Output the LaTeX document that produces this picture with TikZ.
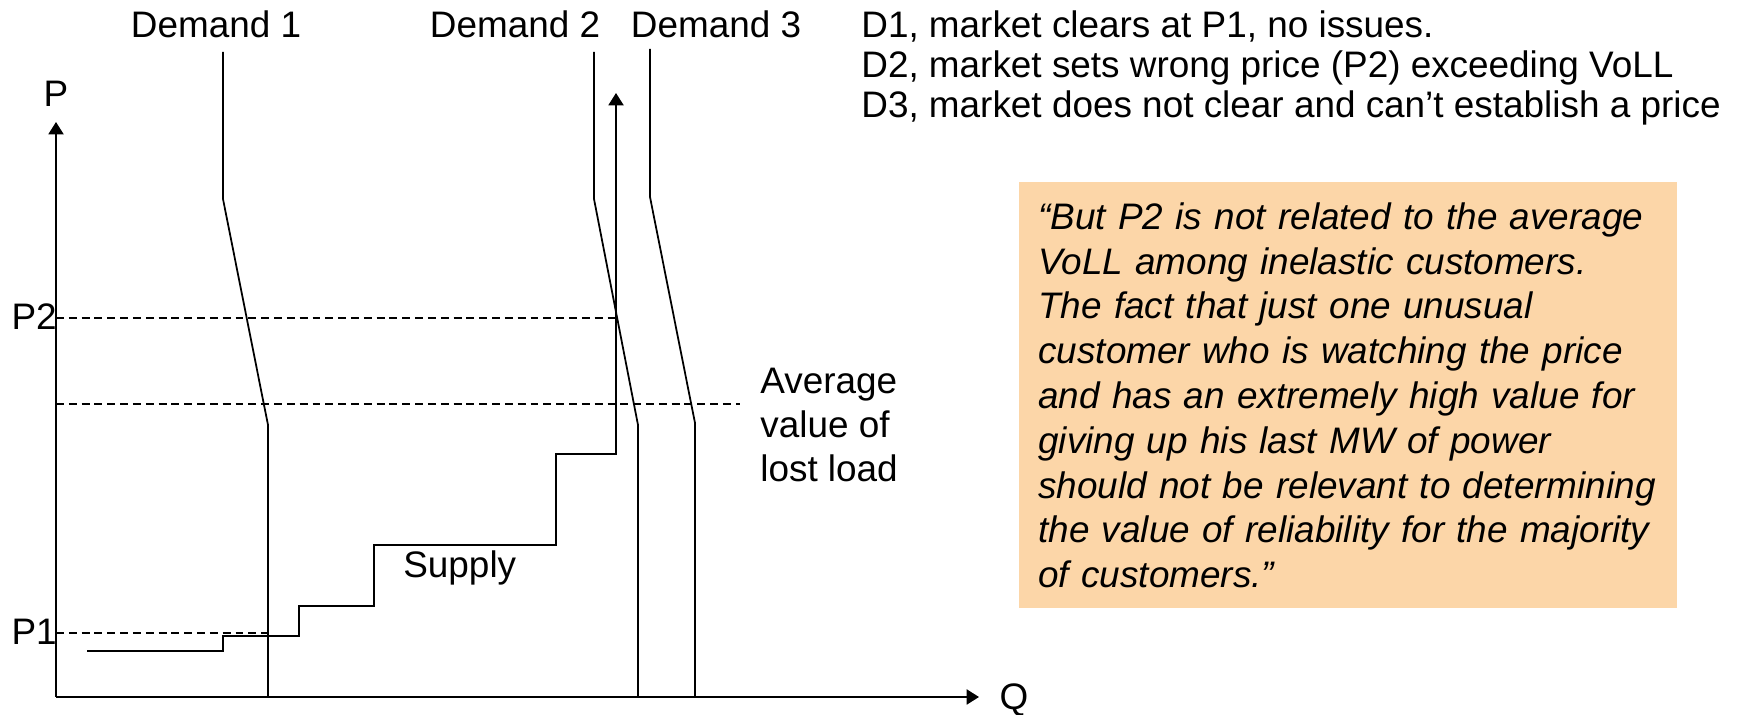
\documentclass[tikz,border=0pt]{standalone}
\usepackage{fontspec}
\setmainfont{Liberation Sans}
\usetikzlibrary{arrows.meta,positioning}
\definecolor{peach}{RGB}{252,214,168}

\begin{document}
\begin{tikzpicture}[x=0.02cm,y=-0.02cm,>={Triangle[width=8.5pt,length=7pt]},
        font=\fontsize{21}{23}\selectfont,
        axis/.style={line width=1.2pt,->},
        demand/.style={line width=1pt},
        supply/.style={line width=1.2pt},
        pricelevel/.style={line width=0.9pt,dash pattern=on 4.5pt off 2.8pt},
        lbl/.style={inner sep=0pt,anchor=base},
        quotebox/.style={fill=peach,anchor=north west,align=left,text width=352.8pt,
            inner xsep=10.8pt,inner ysep=11.5pt,font=\fontsize{21}{25.5}\selectfont\itshape}]
    \useasboundingbox (0,0) rectangle (1741,715);

    % axes
    \coordinate (origin) at (56,697);
    \coordinate (ptop) at (56,122);
    \coordinate (qend) at (979,697);
    \node[lbl] (plabel) at (56,107) {P};
    \node[lbl] (qlabel) at (1014,709) {Q};
    \draw[axis] (origin) -- (ptop);
    \draw[axis] (origin) -- (qend);

    % price levels
    \node[lbl,anchor=base east] (p2label) at (57,330) {P2};
    \node[lbl,anchor=base east] (p1label) at (57,645) {P1};
    \draw[pricelevel] (56,318) -- (620,318);
    \draw[pricelevel] (56,404) -- (740,404);
    \draw[pricelevel] (56,633) -- (268,633);
    \node[lbl,anchor=base west,align=left,font=\fontsize{21}{25.2}\selectfont] (voll) at (760,482) {Average\\value of\\lost load};

    % demand curves
    \node[lbl] (dem1) at (216,38) {Demand 1};
    \node[lbl] (dem2) at (515,38) {Demand 2};
    \node[lbl] (dem3) at (716,38) {Demand 3};
    \draw[demand] (223,52) -- (223,199) -- (268,425) -- (268,697);
    \draw[demand] (594,52) -- (594,199) -- (638,425) -- (638,697);
    \draw[demand] (650,49) -- (650,197) -- (695,423) -- (695,697);

    % supply
    \draw[supply,->] (87,651) -| (223,636) -| (299,606) -| (374,545) -| (556,454) -| (616,93);
    \node[lbl,anchor=base west] (supplylbl) at (403,578) {Supply};

    % notes
    \node[lbl,anchor=base west,align=left] (notes) at (861,118) {D1, market clears at P1, no issues.\\D2, market sets wrong price (P2) exceeding VoLL\\D3, market does not clear and can’t establish a price};
    \node[quotebox] (quote) at (1019,182) {“But P2 is not related to the average\\VoLL among inelastic customers.\\The fact that just one unusual\\customer who is watching the price\\and has an extremely high value for\\giving up his last MW of power\\should not be relevant to determining\\the value of reliability for the majority\\of customers.”};
\end{tikzpicture}
\end{document}
